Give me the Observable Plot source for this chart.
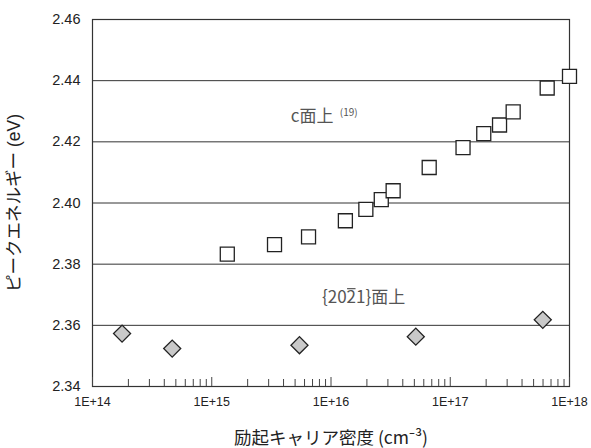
<!DOCTYPE html>
<html>
<head>
<meta charset="utf-8">
<script src="https://cdn.jsdelivr.net/npm/d3@7"></script>
<script src="https://cdn.jsdelivr.net/npm/@observablehq/plot@0.6"></script>
<style>
  body { margin: 0; background: #fff; }
  #chart svg { display: block; }
</style>
</head>
<body>
<div id="chart"></div>
<script>
// PL peak energy vs. excitation carrier density
// c-plane (ref. 19): open squares
const cPlaneDensity = [1.35e15, 3.36e15, 6.48e15, 1.32e16, 1.96e16, 2.64e16, 3.32e16, 6.66e16, 1.28e17, 1.91e17, 2.59e17, 3.37e17, 6.50e17, 1.0e18];
const cPlaneEnergy  = [2.3833, 2.3864, 2.3889, 2.3942, 2.3979, 2.4011, 2.4040, 2.4116, 2.4181, 2.4227, 2.4255, 2.4298, 2.4376, 2.4414];
// {20-21} semipolar plane: gray diamonds
const semiDensity = [1.77e14, 4.66e14, 5.44e15, 5.14e16, 5.97e17];
const semiEnergy  = [2.3573, 2.3524, 2.3535, 2.3563, 2.3618];

const xMajorTicks  = [1e14, 1e15, 1e16, 1e17, 1e18];
const xTickLabels  = ["1E+14", "1E+15", "1E+16", "1E+17", "1E+18"];
const xMinorTicks  = d3.range(14, 18).flatMap(e => d3.range(2, 10).map(m => m * 10 ** e));
const yTicks       = [2.34, 2.36, 2.38, 2.40, 2.42, 2.44, 2.46];
const yGridLines   = [2.36, 2.38, 2.40, 2.42, 2.44];

const xTitle = "励起キャリア密度 (cm⁻³)";
const yTitle = "ピークエネルギー (eV)";
const cLabel = "c面上";
const cRef = "(19)";
// Miller index {20-21}: the third digit carries an overbar
const semiLabelParts = ["{20", "2", "1}面上"];

const cPoints = cPlaneDensity.map((x, i) => ({x, y: cPlaneEnergy[i]}));
const semiPoints = semiDensity.map((x, i) => ({x, y: semiEnergy[i]}));

const latin = "'Liberation Sans', Arial, 'Noto Sans CJK JP', sans-serif";
const cjk = "'Noto Sans CJK JP', 'Noto Sans', sans-serif";
const labelSize = 17;

const chart = Plot.plot({
  width: 591,
  height: 448,
  marginLeft: 92,
  marginRight: 22,
  marginTop: 19,
  marginBottom: 62,
  style: {fontFamily: latin, fontSize: "13.5px", color: "#222", background: "#fff"},
  x: {type: "log", domain: [1e14, 1e18]},
  y: {domain: [2.34, 2.46]},
  marks: [
    Plot.gridY(yGridLines, {stroke: "#333", strokeOpacity: 1, strokeWidth: 1}),
    Plot.frame({stroke: "#333", strokeWidth: 1.2}),
    // inward ticks along the bottom edge
    Plot.axisX(xMinorTicks, {tickSize: -7, tickFormat: () => "", stroke: "#444", label: null}),
    Plot.axisX(xMajorTicks, {tickSize: -9, tickFormat: () => "", stroke: "#444", label: null}),
    Plot.axisX(xMajorTicks, {tickSize: 0, tickPadding: 11, fontSize: 12.5, tickFormat: d => xTickLabels[xMajorTicks.indexOf(d)], fill: "#222", label: null}),
    Plot.axisY(yTicks, {tickSize: 0, tickPadding: 12, fontSize: 14.5, tickFormat: d3.format(".2f"), fill: "#222", label: null}),
    // data
    Plot.dot(semiPoints, {x: "x", y: "y", symbol: "square", rotate: 45, r: 6.8, fill: "#c9c9c9", stroke: "#222", strokeWidth: 1.3}),
    Plot.dot(cPoints, {x: "x", y: "y", symbol: "square", r: 7.9, fill: "#fff", stroke: "#222", strokeWidth: 1.3}),
    // in-plot labels
    Plot.text([cLabel], {x: 4.6e15, y: 2.4283, text: d => d, textAnchor: "start", fontFamily: cjk, fontSize: labelSize, fill: "#555"}),
    Plot.text([cRef], {x: 4.6e15, y: 2.4283, text: d => d, textAnchor: "start", dx: 49, dy: -4, fontFamily: cjk, fontSize: 10, fill: "#555"}),
    Plot.text([semiLabelParts.join("")], {x: 8.4e15, y: 2.3691, text: d => d, textAnchor: "start", fontFamily: cjk, fontSize: labelSize, fill: "#555", className: "semi-label"}),
    // axis titles
    Plot.text([xTitle], {frameAnchor: "bottom", dy: 52, lineAnchor: "middle", textAnchor: "middle", text: d => d, fontFamily: cjk, fontSize: 17.5, fill: "#222"}),
    Plot.text([yTitle], {frameAnchor: "left", dx: -78, rotate: -90, lineAnchor: "middle", textAnchor: "middle", text: d => d, fontFamily: latin, fontSize: 17.5, fill: "#222"})
  ]
});

document.getElementById("chart").append(chart);

// overbar on the third digit of the Miller index, placed from the laid-out glyph
d3.select(chart).selectAll(".semi-label text").each(function () {
  const idx = semiLabelParts[0].length;
  const ext = this.getExtentOfChar(idx);
  const base = this.getStartPositionOfChar(idx);
  const yBar = base.y - 0.84 * labelSize;
  const line = document.createElementNS("http://www.w3.org/2000/svg", "line");
  d3.select(line)
    .attr("transform", this.getAttribute("transform"))
    .attr("x1", ext.x + 0.5).attr("x2", ext.x + ext.width - 0.5)
    .attr("y1", yBar).attr("y2", yBar)
    .attr("stroke", "#555").attr("stroke-width", 1.2);
  this.parentNode.appendChild(line);
});
</script>
</body>
</html>
